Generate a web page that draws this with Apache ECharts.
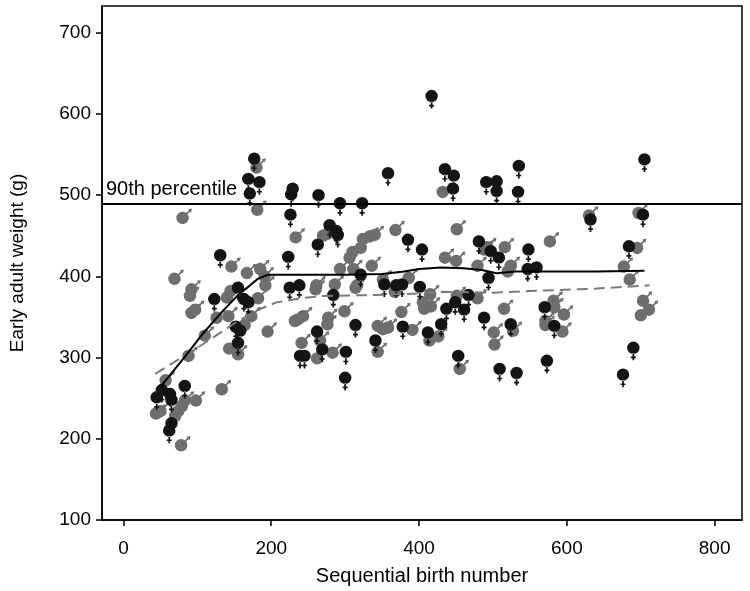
<!DOCTYPE html>
<html><head><meta charset="utf-8">
<script src="https://cdn.jsdelivr.net/npm/echarts@6/dist/echarts.min.js"></script>
<style>html,body{margin:0;padding:0;background:#fff}#c{width:750px;height:591px}</style>
</head><body><div id="c"></div>
<script>
const xTicks = [0, 200, 400, 600, 800];
const yTicks = [100, 200, 300, 400, 500, 600, 700];
const percentile90 = 490;

// Female (black) points: [birth number, weight]
const females = [
  [177,545],[169,520],[184,516],[171,502],[229,508],[227,501],[226,476],[264,500],[293,490],[323,490],
  [358,527],[417,622],[435,532],[447,524],[446,508],[491,516],[505,517],[505,505],[535,536],[534,504],
  [705,544],[632,470],[703,476],
  [131,426],[155,386],[123,372],[163,372],[169,368],[152,338],[158,333],[155,318],
  [83,265],[52,260],[45,251],[63,255],[65,248],[65,219],[62,210],
  [279,463],[288,456],[290,451],[263,439],[385,445],[404,433],[223,424],[321,402],[353,390],[369,389],
  [377,390],[401,387],[225,386],[238,389],[284,377],[314,340],[378,338],[412,331],[262,332],[269,310],
  [341,321],[301,307],[239,302],[245,302],[300,275],[430,341],
  [481,443],[497,431],[508,423],[548,433],[547,409],[559,411],[494,398],[467,377],[449,368],[437,360],
  [461,359],[488,349],[524,341],[453,302],[509,286],[532,281],[573,296],[570,362],[583,339],
  [684,437],[690,312],[676,279]
];

// Male (gray) points: [birth number, weight]
const males = [
  [180,534],[181,482],[432,504],[630,475],[697,478],
  [80,472],[146,412],[185,409],[191,400],[192,389],[167,404],[69,397],[92,384],[90,376],[145,382],
  [140,374],[182,373],[92,355],[97,359],[126,349],[142,351],[173,351],[164,340],[195,332],[110,327],
  [143,311],[155,304],[88,302],[57,272],[133,261],[98,247],[83,247],[79,240],[74,234],[70,228],
  [50,234],[44,231],[78,192],
  [233,448],[270,450],[275,452],[324,446],[333,449],[340,451],[310,430],[306,423],[321,435],[368,457],
  [293,409],[311,409],[336,413],[351,396],[386,398],[367,381],[415,378],[405,368],[407,360],[416,363],
  [261,389],[260,384],[286,390],[314,386],[316,389],[236,347],[243,351],[232,345],[277,349],[276,341],
  [299,357],[344,339],[351,335],[358,337],[376,356],[391,334],[414,321],[426,326],[266,321],[241,318],
  [344,307],[283,306],[262,299],[455,286],
  [451,458],[577,443],[488,433],[492,436],[516,436],[435,423],[450,419],[479,413],[524,413],[520,406],
  [451,376],[479,373],[515,360],[501,331],[527,333],[502,316],[582,370],[583,362],[596,353],[571,345],
  [571,340],[594,332],
  [695,435],[677,412],[685,396],[703,370],[711,359],[700,352]
];

// Smoothed trends
const femaleSmooth = [
  [52,266],[83,301],[108,330],[133,356],[155,377],[170,388],[182,397],[195,402],[230,402],[300,402],
  [350,403],[380,406],[400,409],[430,411],[460,410],[485,408],[505,404],[530,406],[600,406],[640,406],[705,407]
];
const maleSmooth = [
  [43,280],[100,312],[150,342],[180,358],[207,368],[240,373],[270,376],[340,377],[400,379],[434,381],
  [500,380],[550,382],[640,385],[712,389]
];

const FONT = "'Liberation Sans', Arial, Helvetica, sans-serif";
const venus = 'path://M0 5 A5 5 0 1 0 10 5 A5 5 0 1 0 0 5 Z M4.3 9.5 L5.7 9.5 L5.7 15 L4.3 15 Z M3 12 L7 12 L7 13.3 L3 13.3 Z';
const mars = 'path://M0 8 A5 5 0 1 0 10 8 A5 5 0 1 0 0 8 Z M8 6 L11.5 2.5 L10.5 1.5 L7 5 Z M12.5 0.5 L9.2 1.2 L11.8 3.8 Z';

const chart = echarts.init(document.getElementById('c'), null, {renderer: 'canvas'});
chart.setOption({
  animation: false,
  backgroundColor: '#fff',
  grid: {left: 100, right: 8, top: 6, bottom: 70, show: true, borderColor: '#000', borderWidth: 1.5, backgroundColor: 'transparent'},
  xAxis: {
    type: 'value', min: -29, max: 837,
    axisLine: {show: true, onZero: false, lineStyle: {color: '#000', width: 1.5}},
    axisTick: {show: true, customValues: xTicks, length: 6, lineStyle: {color: '#000', width: 1.5}},
    axisLabel: {customValues: xTicks, color: '#000', fontSize: 19, fontFamily: FONT, margin: 19},
    splitLine: {show: false},
    name: 'Sequential birth number', nameLocation: 'middle', nameGap: 46,
    nameTextStyle: {color: '#000', fontSize: 20, fontFamily: FONT}
  },
  yAxis: {
    type: 'value', min: 100, max: 733,
    axisLine: {show: true, onZero: false, lineStyle: {color: '#000', width: 1.5}},
    axisTick: {show: true, customValues: yTicks, length: 6, lineStyle: {color: '#000', width: 1.5}},
    axisLabel: {customValues: yTicks, color: '#000', fontSize: 19, fontFamily: FONT, margin: 11},
    splitLine: {show: false},
    name: 'Early adult weight (g)', nameLocation: 'middle', nameGap: 75,
    nameTextStyle: {color: '#000', fontSize: 19, fontFamily: FONT}
  },
  series: [
    {type: 'scatter', data: males, symbol: mars, symbolSize: [15.6, 15.6], symbolOffset: [1.6, -1.6],
     itemStyle: {color: '#6e6e6e', opacity: 1}, z: 2},
    {type: 'scatter', data: females, symbol: venus, symbolSize: [12.5, 18.75], symbolOffset: [0, 3.1],
     itemStyle: {color: '#141414', opacity: 1}, z: 3},
    {type: 'line', data: maleSmooth, showSymbol: false, symbol: 'none',
     lineStyle: {color: '#7a7a7a', width: 2, type: [11, 6]}, z: 4},
    {type: 'line', data: femaleSmooth, showSymbol: false, symbol: 'none',
     lineStyle: {color: '#000', width: 2}, z: 5,
     markLine: {silent: true, symbol: ['none', 'none'],
       lineStyle: {color: '#000', width: 2, type: 'solid'},
       label: {show: true, position: 'insideStartTop', formatter: '90th percentile', color: '#000',
               fontSize: 20, fontFamily: FONT, distance: [4, 4]},
       data: [{yAxis: percentile90}]}}
  ]
});
</script></body></html>
